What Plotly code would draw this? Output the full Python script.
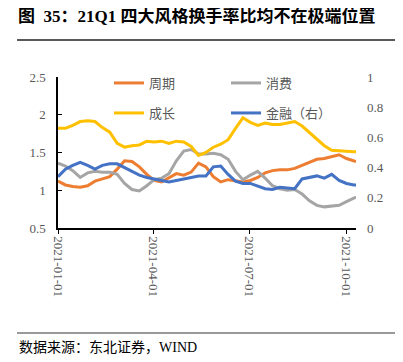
import plotly.graph_objects as go
import pandas as pd

# ---- data ----
dates = list(pd.date_range("2021-01-01", periods=41, freq="7D").strftime("%Y-%m-%d")) + ["2021-10-10"]

cycle = [1.12, 1.07, 1.05, 1.04, 1.06, 1.12, 1.15, 1.18, 1.28, 1.39, 1.38, 1.31, 1.21, 1.13,
         1.11, 1.16, 1.22, 1.20, 1.24, 1.36, 1.31, 1.18, 1.11, 1.14, 1.13, 1.11, 1.13, 1.17,
         1.23, 1.26, 1.27, 1.27, 1.29, 1.33, 1.36, 1.41, 1.42, 1.44, 1.47, 1.42, 1.39, 1.38]
consume = [1.36, 1.32, 1.26, 1.17, 1.23, 1.25, 1.24, 1.24, 1.21, 1.09, 1.01, 0.99, 1.06, 1.14,
           1.16, 1.22, 1.39, 1.52, 1.54, 1.48, 1.48, 1.49, 1.47, 1.41, 1.25, 1.14, 1.20, 1.25,
           1.16, 1.06, 1.02, 1.00, 1.01, 0.95, 0.86, 0.80, 0.78, 0.79, 0.80, 0.85, 0.90, 0.91]
growth = [1.82, 1.82, 1.86, 1.91, 1.92, 1.91, 1.83, 1.77, 1.62, 1.57, 1.59, 1.60, 1.65, 1.64,
          1.65, 1.62, 1.65, 1.64, 1.58, 1.46, 1.50, 1.57, 1.61, 1.67, 1.82, 1.96, 1.90, 1.86,
          1.89, 1.87, 1.87, 1.89, 1.91, 1.85, 1.76, 1.68, 1.59, 1.53, 1.52, 1.52, 1.51, 1.51]
finance = [0.34, 0.39, 0.415, 0.435, 0.415, 0.39, 0.415, 0.425, 0.425, 0.40, 0.38, 0.35, 0.335,
           0.325, 0.315, 0.305, 0.315, 0.325, 0.335, 0.345, 0.345, 0.405, 0.41, 0.355, 0.31,
           0.295, 0.295, 0.28, 0.26, 0.255, 0.27, 0.265, 0.26, 0.325, 0.335, 0.345, 0.33,
           0.355, 0.315, 0.295, 0.285, 0.285]

x_ticks = ["2021-01-01", "2021-04-01", "2021-07-01", "2021-10-01"]
left_ticks = [0.5, 1, 1.5, 2, 2.5]
right_ticks = [0, 0.2, 0.4, 0.6, 0.8, 1]

title_text = "<b>图  35：21Q1 四大风格换手率比均不在极端位置</b>"
source_text = "数据来源：东北证券，WIND"

# ---- layout geometry (page pixels; the page body adds an 8px offset) ----
OFF = 8
W, H = 403 - OFF, 362 - OFF
L, R, T, B = 58 - OFF, 47, 77 - OFF, 134
PW, PH = W - L - R, H - T - B

def px_x(x):
    return (x - OFF - L) / PW

def px_y(y):
    return (H - B - (y - OFF)) / PH

fig = go.Figure()
fig.add_trace(go.Scatter(x=dates, y=cycle, name="周期", mode="lines",
                         line=dict(color="#ED7D31", width=3), legend="legend"))
fig.add_trace(go.Scatter(x=dates, y=consume, name="消费", mode="lines",
                         line=dict(color="#A5A5A5", width=3), legend="legend2"))
fig.add_trace(go.Scatter(x=dates, y=growth, name="成长", mode="lines",
                         line=dict(color="#FFC000", width=3), legend="legend3"))
fig.add_trace(go.Scatter(x=dates, y=finance, name="金融（右）", mode="lines",
                         line=dict(color="#4472C4", width=3), yaxis="y2", legend="legend4"))

tick_font = dict(family="Liberation Serif, Noto Sans CJK SC", size=13, color="#595959")
leg_font = dict(family="Noto Sans CJK SC", size=13, color="#595959")

def leg(xp, yp):
    return dict(orientation="h", x=px_x(xp), y=px_y(yp), xanchor="left", yanchor="top",
                font=leg_font, bgcolor="rgba(0,0,0,0)")

fig.update_layout(
    width=W, height=H,
    margin=dict(l=L, r=R, t=T, b=B),
    paper_bgcolor="white", plot_bgcolor="white",
    showlegend=True,
    xaxis=dict(type="date", range=["2021-01-01", "2021-10-10"],
               tickvals=x_ticks, ticktext=x_ticks, tickangle=90,
               showline=True, linecolor="black", linewidth=1.5,
               ticks="outside", ticklen=4, tickcolor="black",
               showgrid=False, zeroline=False, tickfont=tick_font),
    yaxis=dict(range=[0.5, 2.5], tickvals=left_ticks,
               showline=True, linecolor="black", linewidth=1.5,
               ticks="inside", ticklen=4, tickcolor="black",
               showgrid=False, zeroline=False, tickfont=tick_font,
               ticklabelstandoff=8),
    yaxis2=dict(range=[0, 1], tickvals=right_ticks, overlaying="y", side="right",
                showline=False, ticks="", showgrid=False, zeroline=False,
                tickfont=tick_font, ticklabelstandoff=10),
    legend=leg(109, 68),
    legend2=leg(226, 68),
    legend3=leg(109, 98),
    legend4=leg(226, 98),
)

fig.add_annotation(text=title_text, xref="paper", yref="paper",
                   x=px_x(17), y=px_y(16), xanchor="left", yanchor="middle",
                   showarrow=False, borderpad=0,
                   font=dict(family="Liberation Serif, Noto Sans CJK SC", size=17, color="black"))
fig.add_annotation(text=source_text, xref="paper", yref="paper",
                   x=px_x(17), y=px_y(347), xanchor="left", yanchor="middle",
                   showarrow=False,
                   font=dict(family="Liberation Serif, Noto Sans CJK SC", size=14, color="black"))
fig.add_shape(type="line", xref="paper", yref="paper",
              x0=px_x(17), x1=px_x(397), y0=px_y(40), y1=px_y(40),
              line=dict(color="#222222", width=1.5))
fig.add_shape(type="line", xref="paper", yref="paper",
              x0=px_x(17), x1=px_x(397), y0=px_y(333), y1=px_y(333),
              line=dict(color="#999999", width=2))

fig.write_html("out.html")
